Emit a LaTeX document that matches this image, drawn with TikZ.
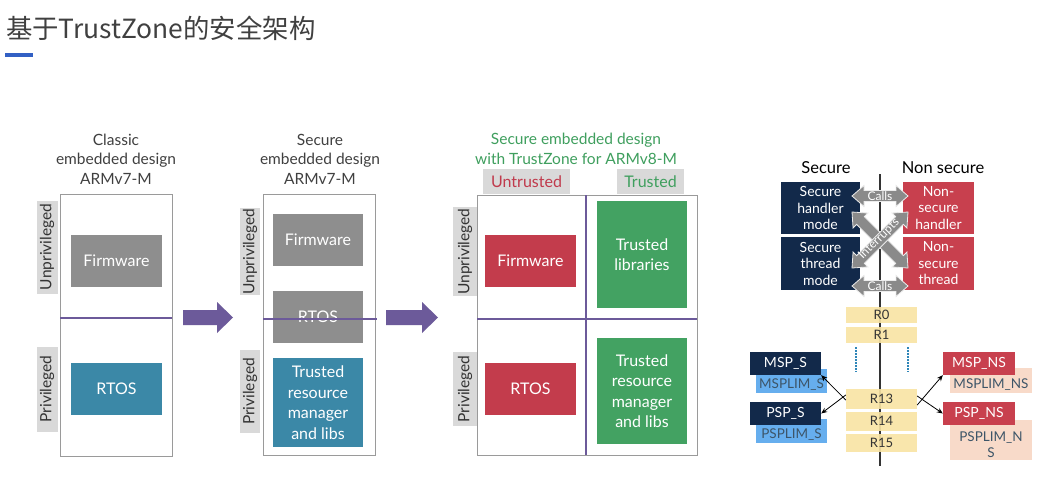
\documentclass[tikz,border=0pt]{standalone}
\usepackage{fontspec}
\setmainfont{Lato}
\newfontfamily\cjk{Noto Sans CJK SC}
\usetikzlibrary{arrows.meta}
\definecolor{titlegray}{HTML}{404040}
\definecolor{ublue}{HTML}{3260C4}
\definecolor{boxgray}{HTML}{8E8E8E}
\definecolor{teal}{HTML}{3B88A7}
\definecolor{redbox}{HTML}{C33C4C}
\definecolor{greenbox}{HTML}{43A262}
\definecolor{lblbg}{HTML}{D9D9D9}
\definecolor{framegray}{HTML}{9A9A9A}
\definecolor{purp}{HTML}{6C5A9A}
\definecolor{navy}{HTML}{12294A}
\definecolor{redns}{HTML}{C8404E}
\definecolor{lightblue}{HTML}{66AEEE}
\definecolor{peach}{HTML}{F8DAC9}
\definecolor{regyellow}{HTML}{F9E4A4}
\definecolor{dotblue}{HTML}{2F86B8}
\definecolor{untrustedred}{HTML}{C03A4C}
\definecolor{trustedgreen}{HTML}{3F9F5E}
\definecolor{callgray}{HTML}{8A8A8A}
\definecolor{darktxt}{HTML}{333333}
\definecolor{limtxt}{HTML}{3D5568}
\newcommand\dblarr[4]{%
  \begin{scope}[shift={(#1,#2)}, rotate=#3]
    \filldraw[fill=callgray, draw=white!85!gray, line width=0.8pt]
      (-#4,0) -- (-#4+12,-10.5) -- (-#4+12,-5.5) -- (#4-12,-5.5) -- (#4-12,-10.5) -- (#4,0)
      -- (#4-12,10.5) -- (#4-12,5.5) -- (-#4+12,5.5) -- (-#4+12,10.5) -- cycle;
  \end{scope}}
\tikzset{
  frame/.style={draw=framegray, line width=1pt, inner sep=0pt},
  divline/.style={draw=purp, line width=1.3pt},
  blk/.style={inner sep=0pt, align=center, text=white, font=\fontsize{16}{20.5}\selectfont},
  lbl/.style={fill=lblbg, inner sep=0pt, rotate=90, text=darktxt, font=\fontsize{15.5}{18}\selectfont},
  ptitle/.style={align=center, text=titlegray, font=\fontsize{15.5}{19.5}\selectfont, inner sep=0pt},
  sec/.style={blk, font=\fontsize{14}{16.5}\selectfont},
  calltxt/.style={text=white, inner sep=0pt, font=\fontsize{12}{14}\selectfont},
  reg/.style={fill=regyellow, fill opacity=0.9, text opacity=1, inner sep=0pt, minimum width=71pt, text=darktxt, font=\fontsize{13}{15}\selectfont},
  spbox/.style={inner sep=0pt, minimum width=71pt, minimum height=23pt, text=white, font=\fontsize{14}{16}\selectfont},
  limbox/.style={inner sep=0pt},
  limlabel/.style={inner sep=0pt, text=limtxt, align=center, font=\fontsize{13.5}{16}\selectfont},
  ptr/.style={draw=black, line width=0.8pt, -{Stealth[length=6pt,width=5pt]}}
}
\begin{document}
\begin{tikzpicture}[x=1pt,y=-1pt]
\useasboundingbox (0,0) rectangle (1045,488);
\fill[white] (0,0) rectangle (1045,488);

% title
\node[anchor=west, text=titlegray, font=\cjk\fontsize{26.4}{30}\selectfont, inner sep=0pt] (title) at (6,28) {基于TrustZone的安全架构};
\fill[ublue] (5,53) rectangle (33,57);

% ---------- panel 1
\node[ptitle] (t1) at (116,159) {Classic\\embedded design\\ARMv7-M};
\node[frame, minimum width=112pt, minimum height=262pt] (f1) at (116,325) {};
\draw[divline] (60,318) -- (172,318);
\node[blk, fill=boxgray, minimum width=91pt, minimum height=52pt] (fw1) at (116.5,261) {Firmware};
\node[blk, fill=teal, minimum width=91pt, minimum height=52pt] (rt1) at (116.5,389) {RTOS};
\node[lbl, minimum width=93pt, minimum height=21pt] (up1) at (47,247) {Unprivileged};
\node[lbl, minimum width=85pt, minimum height=21pt] (pr1) at (47,389) {Privileged};

% arrow 1
\fill[purp] (183,310) -- (217,310) -- (217,302) -- (233,317.5) -- (217,333) -- (217,325) -- (183,325) -- cycle;

% ---------- panel 2
\node[ptitle] (t2) at (320,159) {Secure\\embedded design\\ARMv7-M};
\node[frame, minimum width=112pt, minimum height=261pt] (f2) at (319,324.5) {};
\node[blk, fill=boxgray, minimum width=90pt, minimum height=52pt] (fw2) at (318,240) {Firmware};
\node[blk, fill=boxgray, minimum width=90pt, minimum height=52pt] (rt2) at (318,317) {RTOS};
\draw[divline] (263,319) -- (377,319);
\node[blk, fill=teal, minimum width=90pt, minimum height=89pt] (tr2) at (318,402.5) {Trusted\\resource\\manager\\and libs};
\node[lbl, minimum width=87pt, minimum height=20pt] (up2) at (250,251.5) {Unprivileged};
\node[lbl, minimum width=83pt, minimum height=20pt] (pr2) at (250,391.5) {Privileged};

% arrow 2
\fill[purp] (386,310) -- (422,310) -- (422,302) -- (438,317.5) -- (422,333) -- (422,325) -- (386,325) -- cycle;

% ---------- panel 3
\node[ptitle, text=trustedgreen] (t3) at (576,149) {Secure embedded design\\with TrustZone for ARMv8-M};
\node[frame, minimum width=220pt, minimum height=260pt] (f3) at (587,325) {};
\draw[divline] (586,195) -- (586,455);
\draw[divline] (477,319) -- (697,319);
\node[fill=lblbg, inner sep=0pt, minimum width=87pt, minimum height=25pt, text=untrustedred, font=\fontsize{16}{18}\selectfont] (ut) at (526.5,181.5) {Untrusted};
\node[fill=lblbg, inner sep=0pt, minimum width=67pt, minimum height=25pt, text=trustedgreen, font=\fontsize{16}{18}\selectfont] (tt) at (650.5,181.5) {Trusted};
\node[blk, fill=redbox, minimum width=91pt, minimum height=52pt] (fw3) at (530.5,261) {Firmware};
\node[blk, fill=redbox, minimum width=91pt, minimum height=52pt] (rt3) at (530.5,389) {RTOS};
\node[blk, fill=greenbox, minimum width=90pt, minimum height=107pt] (tl3) at (642,254.5) {Trusted\\libraries};
\node[blk, fill=greenbox, minimum width=90pt, minimum height=106pt] (tr3) at (642,391) {Trusted\\resource\\manager\\and libs};
\node[lbl, minimum width=89pt, minimum height=24pt] (up3) at (465,251.5) {Unprivileged};
\node[lbl, minimum width=74pt, minimum height=24pt] (pr3) at (465,389) {Privileged};

% ---------- panel 4
\node[text=black, inner sep=0pt, font=\fontsize{16.5}{19}\selectfont] (hs) at (826,168) {Secure};
\node[text=black, inner sep=0pt, font=\fontsize{16.5}{19}\selectfont] (hn) at (943,168) {Non secure};
\coordinate (vtop) at (880,174);
\coordinate (vbot) at (880,466);
\draw[draw=darktxt, line width=1.8pt] (vtop) -- (vbot);

\node[sec, fill=navy, minimum width=79pt, minimum height=52pt] (shm) at (820.5,208) {Secure\\handler\\mode};
\node[sec, fill=navy, minimum width=79pt, minimum height=53pt] (stm) at (820.5,263.5) {Secure\\thread\\mode};
\node[sec, fill=redns, minimum width=71pt, minimum height=52pt] (nsh) at (938.5,208) {Non-\\secure\\handler};
\node[sec, fill=redns, minimum width=71pt, minimum height=53pt] (nst) at (938.5,263.5) {Non-\\secure\\thread};

\dblarr{880}{240}{-45}{39.6}
\dblarr{880}{240}{45}{39.6}
\node[calltxt, rotate=45] (intr) at (879,239) {Interrupts};
\dblarr{880}{196}{0}{28}
\node[calltxt] (callsT) at (880,196) {Calls};
\dblarr{880}{286}{0}{28}
\node[calltxt] (callsB) at (880,286) {Calls};

% registers
\node[reg, minimum height=16pt] (r0) at (881.5,315) {R0};
\node[reg, minimum height=16pt] (r1) at (881.5,335) {R1};
\node[reg, minimum height=20pt] (r13) at (881.5,399) {R13};
\node[reg, minimum height=19pt] (r14) at (881.5,421) {R14};
\node[reg, minimum height=18pt] (r15) at (881.5,443) {R15};
\coordinate (d1a) at (856,347); \coordinate (d1b) at (856,372);
\coordinate (d2a) at (908,347); \coordinate (d2b) at (908,372);
\draw[dotblue, line width=1.8pt, dash pattern=on 1.5pt off 1.5pt] (d1a) -- (d1b);
\draw[dotblue, line width=1.8pt, dash pattern=on 1.5pt off 1.5pt] (d2a) -- (d2b);

% secure stack pointers
\node[limbox, fill=lightblue, minimum width=71pt, minimum height=24pt] (mspl) at (791.5,381) {};
\node[limlabel] (msplt) at (791.5,385) {MSPLIM\_S};
\node[spbox, fill=navy] (msps) at (785.5,363.5) {MSP\_S};
\node[limbox, fill=lightblue, minimum width=71pt, minimum height=24pt] (pspl) at (791.5,431) {};
\node[limlabel] (psplt) at (791.5,435) {PSPLIM\_S};
\node[spbox, fill=navy] (psps) at (785.5,413.5) {PSP\_S};

% non-secure stack pointers
\node[limbox, fill=peach, minimum width=82pt, minimum height=25pt] (mspln) at (991,380.5) {};
\node[limlabel] (msplnt) at (991,385) {MSPLIM\_NS};
\node[spbox, fill=redns, minimum width=72pt] (mspns) at (979,363.5) {MSP\_NS};
\node[limbox, fill=peach, minimum width=82pt, minimum height=40pt] (pspln) at (991,440) {};
\node[limlabel] (psplnt) at (991,445) {PSPLIM\_N\\S};
\node[spbox, fill=redns, minimum width=72pt] (pspns) at (979,413.5) {PSP\_NS};

% pointer arrows
\draw[ptr] ([yshift=-1pt]r13.west) -- (msps.south east);
\draw[ptr] ([yshift=4pt]r13.west) -- (psps.east);
\draw[ptr] ([yshift=-6pt]r13.east) -- (mspns.south west);
\draw[ptr] ([yshift=3pt]r13.east) -- (pspns.west);
\end{tikzpicture}
\end{document}
